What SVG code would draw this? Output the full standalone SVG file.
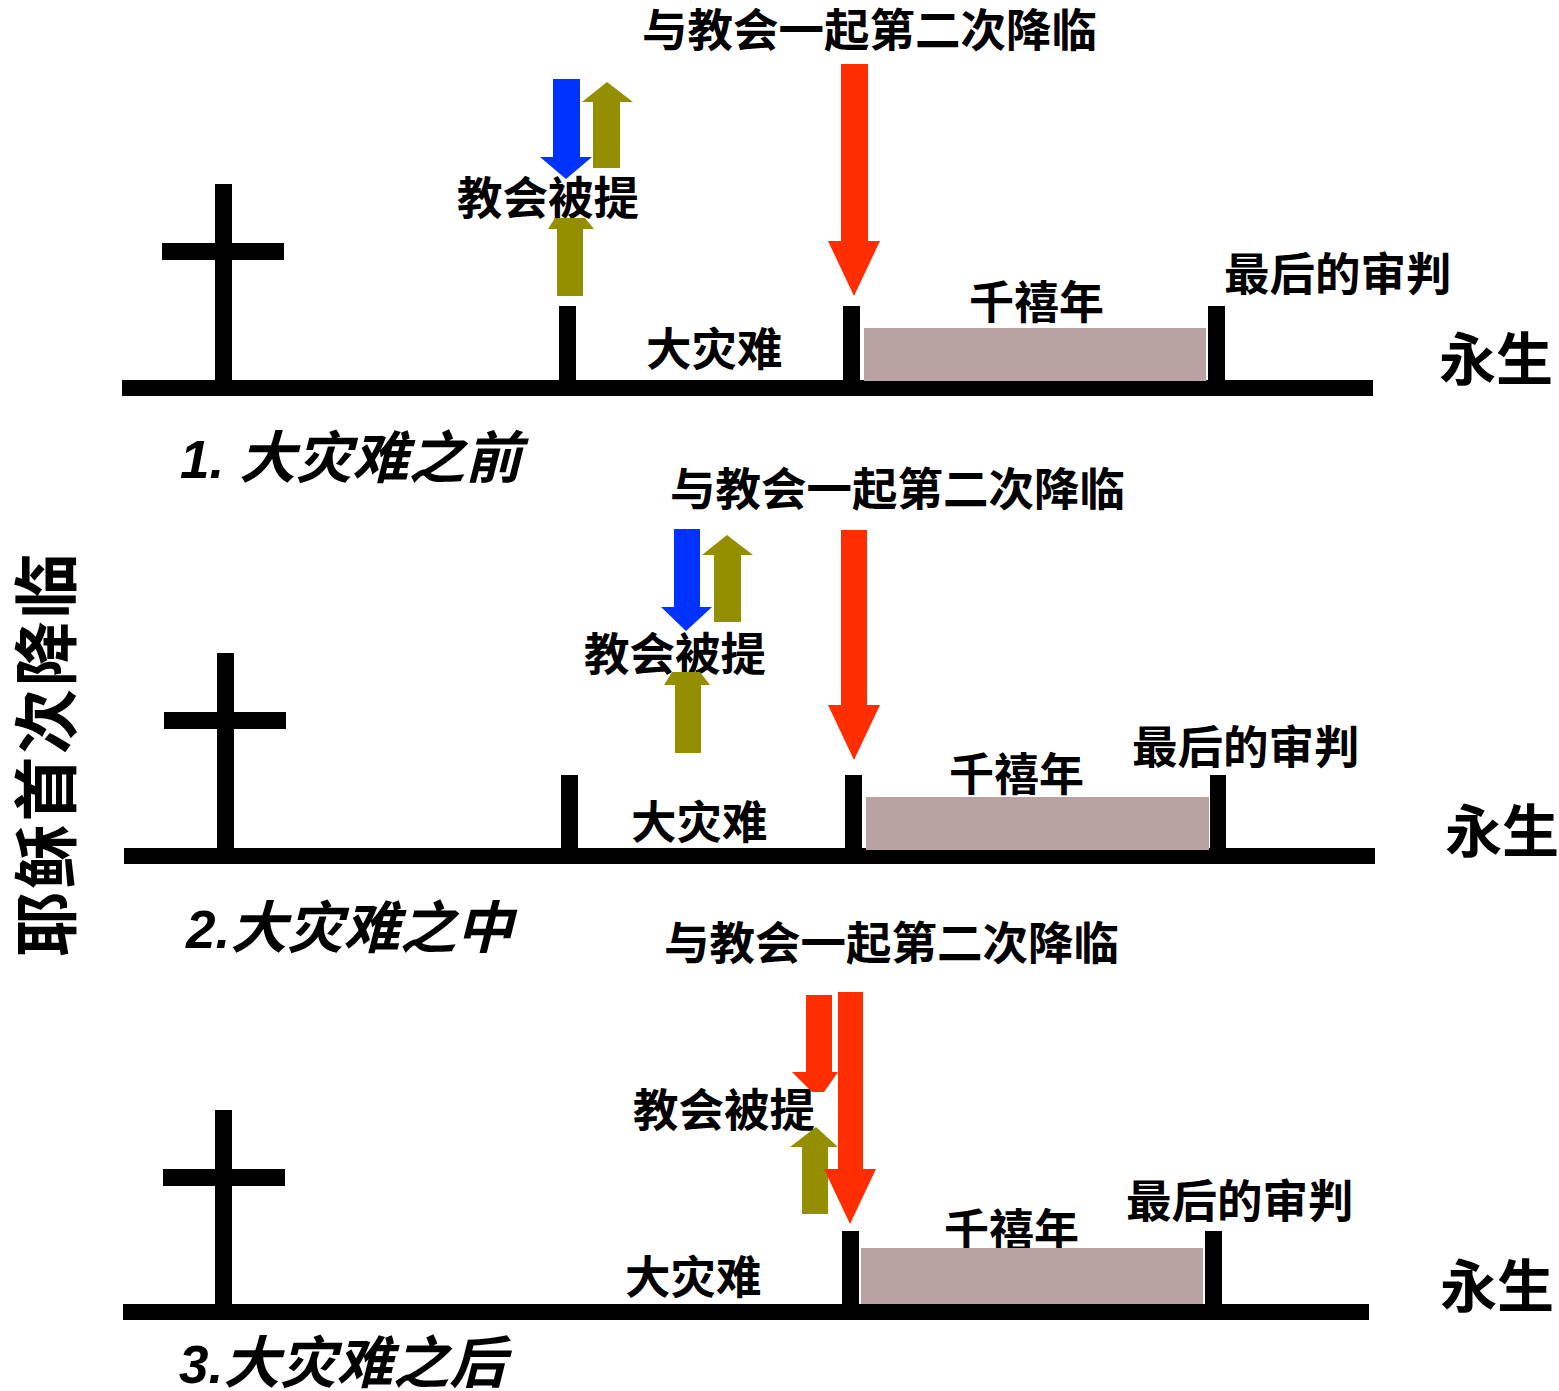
<svg xmlns="http://www.w3.org/2000/svg" width="1559" height="1391" viewBox="0 0 1559 1391">
<style>
text{font-family:"Liberation Sans","Noto Sans CJK SC",sans-serif;font-weight:700;fill:#000}
.l{font-size:45px}
.h{font-size:45.5px}
.y{font-size:57px}
.c{font-size:53px;font-style:italic}
.c .z{font-size:56.5px}
.t{font-size:65px;letter-spacing:2.7px}
.k{fill:#000}
.m{fill:#b8a3a2}
.b{fill:#0033ff}
.o{fill:#948f00}
.r{fill:#ff2e00}
</style>
<rect width="1559" height="1391" fill="#fff"/>
<g id="title"><text class="t" transform="translate(70 957) rotate(-90)">耶稣首次降临</text></g>

<g id="panel-1">
<g id="timeline-1"><rect class="k" x="122" y="380" width="1251" height="16"/></g>
<g id="cross-1"><rect class="k" x="215" y="184" width="17" height="197"/><rect class="k" x="162" y="243" width="122" height="17"/></g>
<g id="tick-1a"><rect class="k" x="559" y="306" width="17" height="75"/></g>
<g id="tick-1b"><rect class="k" x="843" y="306" width="17" height="75"/></g>
<g id="tick-1c"><rect class="k" x="1208" y="306" width="17" height="75"/></g>
<g id="millennium-1"><rect class="m" x="864" y="328" width="342" height="53"/><text class="l" x="969" y="319">千禧年</text></g>
<g id="labels-1">
<text class="h" x="642" y="47">与教会一起第二次降临</text>
<text class="h" x="457" y="215">教会被提</text>
<text class="h" x="646" y="366">大灾难</text>
<text class="h" x="1224" y="291">最后的审判</text>
<text class="y" x="1439" y="380">永生</text>
<text class="c" x="180" y="477.5">1. <tspan class="z">大灾难之前</tspan></text>
</g>
</g>

<g id="panel-2">
<g id="timeline-2"><rect class="k" x="124" y="848" width="1251" height="16"/></g>
<g id="cross-2"><rect class="k" x="217" y="653" width="17" height="196"/><rect class="k" x="164" y="712" width="122" height="17"/></g>
<g id="tick-2a"><rect class="k" x="561" y="775" width="17" height="74"/></g>
<g id="tick-2b"><rect class="k" x="845" y="775" width="17" height="74"/></g>
<g id="tick-2c"><rect class="k" x="1210" y="775" width="16" height="74"/></g>
<g id="millennium-2"><rect class="m" x="866" y="797" width="343" height="53"/><text class="l" x="949" y="791">千禧年</text></g>
<g id="labels-2">
<text class="h" x="670" y="506">与教会一起第二次降临</text>
<text class="h" x="584" y="671">教会被提</text>
<text class="h" x="631" y="839">大灾难</text>
<text class="h" x="1132" y="764">最后的审判</text>
<text class="y" x="1445" y="852">永生</text>
<text class="c" x="186" y="947.5">2.<tspan class="z">大灾难之中</tspan></text>
</g>
</g>

<g id="panel-3">
<g id="timeline-3"><rect class="k" x="123" y="1304" width="1246" height="16"/></g>
<g id="cross-3"><rect class="k" x="215" y="1110" width="17" height="195"/><rect class="k" x="163" y="1169" width="122" height="17"/></g>
<g id="tick-3b"><rect class="k" x="842" y="1231" width="17" height="74"/></g>
<g id="tick-3c"><rect class="k" x="1205" y="1231" width="17" height="74"/></g>
<g id="millennium-3"><text class="l" x="944" y="1247">千禧年</text><rect class="m" x="861" y="1248" width="342" height="56"/></g>
<g id="labels-3">
<text class="h" x="664" y="960">与教会一起第二次降临</text>
<text class="h" x="633" y="1127">教会被提</text>
<text class="h" x="625" y="1294">大灾难</text>
<text class="h" x="1126" y="1218">最后的审判</text>
<text class="y" x="1440" y="1307">永生</text>
<text class="c" x="179" y="1383">3.<tspan class="z">大灾难之后</tspan></text>
</g>
</g>

<g id="connectors">
<polygon class="b" points="553,79 580,79 580,157 592,157 566,179 540,157 553,157"/>
<polygon class="o" points="593,168 620,168 620,102 633,102 607,82 582,102 593,102"/>
<polygon class="o" points="557,296 583,296 583,229 594,229 585,218 555,218 548,229 557,229"/>
<polygon class="r" points="841,64 868,64 868,241 880,241 854,296 828,241 841,241"/>

<polygon class="b" points="674,529 700,529 700,607 712,607 686,631 661,607 674,607"/>
<polygon class="o" points="714,622 741,622 741,555 753,555 727,535 702,555 714,555"/>
<polygon class="o" points="675,753 701,753 701,685 710,685 700,672 672,672 664,685 675,685"/>
<polygon class="r" points="841,530 867,530 867,705 880,705 854,760 828,705 841,705"/>

<polygon class="r" points="806,995 832,995 832,1072 838,1072 824,1092 812,1092 792,1072 806,1072"/>
<polygon class="o" points="802,1214 828,1214 828,1147 838,1147 816,1127 790,1147 802,1147"/>
<polygon class="r" points="838,992 863,992 863,1169 876,1169 850,1224 824,1169 838,1169"/>
</g>
</svg>
